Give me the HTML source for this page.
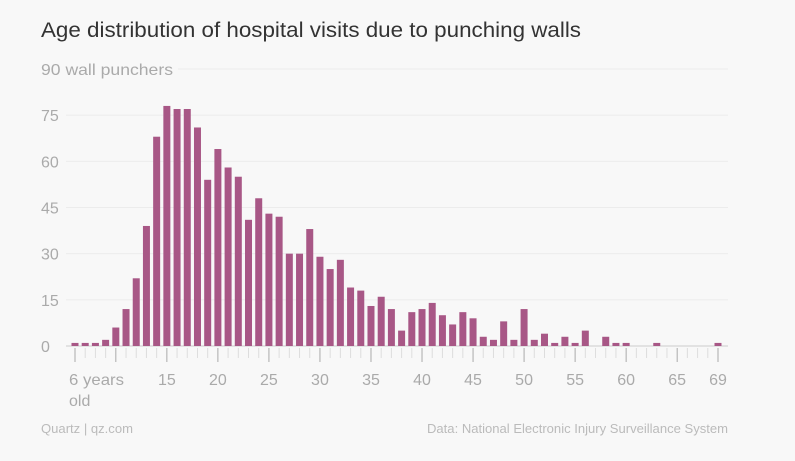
<!DOCTYPE html>
<html><head><meta charset="utf-8"><style>
html,body{margin:0;padding:0;background:#f8f8f8;}
svg{display:block;font-family:"Liberation Sans",sans-serif;}
</style></head><body>
<svg id="chart" width="795" height="461">
<rect width="795" height="461" fill="#f8f8f8"/>
<text x="41" y="37" font-size="21" fill="#333" textLength="540" lengthAdjust="spacingAndGlyphs">Age distribution of hospital visits due to punching walls</text>
<g id="grid"></g><g id="bars"></g><g id="xaxis"></g>
<text x="41" y="433" font-size="13" fill="#bbb" textLength="92" lengthAdjust="spacingAndGlyphs">Quartz | qz.com</text>
<text x="728" y="433" font-size="13" fill="#bbb" text-anchor="end" textLength="301" lengthAdjust="spacingAndGlyphs">Data: National Electronic Injury Surveillance System</text>
</svg>
<script>
const ages=[6,7,8,9,10,11,12,13,14,15,16,17,18,19,20,21,22,23,24,25,26,27,28,29,30,31,32,33,34,35,36,37,38,39,40,41,42,43,44,45,46,47,48,49,50,51,52,53,54,55,56,57,58,59,60,61,62,63,64,65,66,67,68,69];
const visits=[1,1,1,2,6,12,22,39,68,78,77,77,71,54,64,58,55,41,48,43,42,30,30,38,29,25,28,19,18,13,16,12,5,11,12,14,10,7,11,9,3,2,8,2,12,2,4,1,3,1,5,0,3,1,1,0,0,1,0,0,0,0,0,1];
const yTicks=[0,15,30,45,60,75,90];
const xLabels=[15,20,25,30,35,40,45,50,55,60,65,69];
const NS="http://www.w3.org/2000/svg";
const x=a=>75+(a-6)*(718-75)/63;
const y=v=>346-v*(346-69)/90;
function mk(tag,attrs,parent){const e=document.createElementNS(NS,tag);for(const k in attrs)e.setAttribute(k,attrs[k]);document.getElementById(parent).appendChild(e);return e;}
yTicks.forEach(t=>{
  const top=t===90;
  const l=mk('line',{x1:top?178:66,x2:728,y1:y(t),y2:y(t),stroke:t===0?'#ccc':'#ececec','stroke-width':1},'grid');
  
  
  const attrs={x:41,y:y(t)+6,'font-size':16,fill:'#aaa'};
  if(top){attrs.textLength=132;attrs.lengthAdjust='spacingAndGlyphs';}
  const tx=mk('text',attrs,'grid');
  tx.textContent=top?'90 wall punchers':String(t);
  
  
});
ages.forEach((a,i)=>{
  const v=visits[i];
  if(v>0){
    const r=mk('rect',{x:x(a)-3.5,y:y(v),width:7,height:y(0)-y(v),fill:'#a85786'},'bars');
    
    
  }
  const major=(a%5===0)||a===6||a===69;
  const tk=mk('line',{x1:x(a),x2:x(a),y1:348,y2:major?362:358,stroke:major?'#aaa':'#ddd','stroke-width':1},'xaxis');
  
  
});
xLabels.forEach(a=>{
  const t=mk('text',{x:x(a),y:385,'font-size':16,fill:'#aaa','text-anchor':'middle'},'xaxis');
  t.textContent=String(a);
  
  
});
const t6=mk('text',{x:69,y:385,'font-size':16,fill:'#aaa',textLength:55,lengthAdjust:'spacingAndGlyphs'},'xaxis');
t6.textContent='6 years';


const t6b=mk('text',{x:69,y:406,'font-size':16,fill:'#aaa'},'xaxis');
t6b.textContent='old';


</script>
</body></html>
